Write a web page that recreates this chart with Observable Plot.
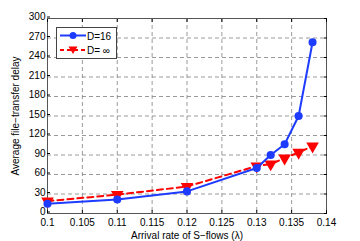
<!DOCTYPE html>
<html><head><meta charset="utf-8">
<script src="https://cdn.jsdelivr.net/npm/d3@7"></script>
<script src="https://cdn.jsdelivr.net/npm/@observablehq/plot@0.6"></script>
<style>
body{margin:0;background:#fff;font-family:"Liberation Sans",Arial,sans-serif;}
#wrap{position:relative;width:360px;height:241px;}
#legend{position:absolute;left:56px;top:27px;}
</style></head><body>
<div id="wrap"><div id="chart"></div><div id="legend"></div></div>
<script>
const lambda = [0.1, 0.11, 0.12, 0.13, 0.132, 0.134, 0.136, 0.138];
const delayD16 = [15, 21.5, 34, 70, 90, 106.5, 150, 263.5];
const delayDinf = [19, 29, 41.5, 73, 76, 85, 94, 103.5];
const xTicks = [0.1, 0.105, 0.11, 0.115, 0.12, 0.125, 0.13, 0.135, 0.14];
const xTickLabels = ["0.1","0.105","0.11","0.115","0.12","0.125","0.13","0.135","0.14"];
const yTicks = [0,30,60,90,120,150,180,210,240,270,300];
const seriesNames = ["D=16", "D= \u221e"];

const blue = "#1e3cff", red = "#ff0000";
const d16 = lambda.map((x,i)=>({x, y: delayD16[i]}));
const dinf = lambda.map((x,i)=>({x, y: delayDinf[i]}));

const plot = Plot.plot({
  width: 360, height: 241,
  marginLeft: 47, marginRight: 34, marginTop: 18, marginBottom: 28,
  style: {fontFamily: '"Liberation Sans", Arial, sans-serif', fontSize: "10px", color: "#000", background: "#fff"},
  x: {domain: [0.1, 0.14]},
  y: {domain: [0, 300]},
  marks: [
    Plot.ruleX(xTicks.slice(1, -1), {stroke: "#808080", strokeDasharray: "4,3", strokeWidth: 0.8}),
    Plot.ruleY(yTicks.slice(1, -1), {stroke: "#808080", strokeDasharray: "4,3", strokeWidth: 0.8}),
    Plot.frame({stroke: "#555", strokeWidth: 1}),
    Plot.axisX({ticks: xTicks, tickSize: -3, tickFormat: (d)=>xTickLabels[xTicks.indexOf(d)], tickPadding: 8, label: "Arrival rate of S\u2212flows (\u03bb)", labelAnchor: "center", labelArrow: "none", labelOffset: 25, fontSize: 10}),
    Plot.axisX({ticks: xTicks, anchor: "top", tickSize: -3, tickFormat: () => "", label: null}),
    Plot.axisY({ticks: yTicks, tickSize: -3, tickPadding: 5, dy: -1.5, label: "Average file\u2212transfer delay", labelAnchor: "center", labelArrow: "none", labelOffset: 36, fontSize: 10}),
    Plot.axisY({ticks: yTicks, anchor: "right", tickSize: -3, tickFormat: () => "", label: null}),
    Plot.line(dinf, {x: "x", y: "y", stroke: red, strokeWidth: 2, strokeDasharray: "6,4"}),
    Plot.dot(dinf, {x: "x", y: "y", symbol: "triangle", rotate: 180, r: 3.7, fill: red, stroke: red}),
    Plot.line(d16, {x: "x", y: "y", stroke: blue, strokeWidth: 2}),
    Plot.dot(d16, {x: "x", y: "y", r: 3.3, fill: blue, stroke: blue})
  ]
});
document.getElementById("chart").appendChild(plot);

const lg = d3.select("#legend").append("svg").attr("width", 62).attr("height", 33);
lg.append("rect").attr("x", 0.5).attr("y", 0.5).attr("width", 60).attr("height", 31).attr("fill", "#fff").attr("stroke", "#444");
const rows = [{name: seriesNames[0], c: blue, dash: null, y: 8.5, sym: "circle"}, {name: seriesNames[1], c: red, dash: "4,3", y: 23, sym: "tri"}];
rows.forEach(r => {
  lg.append("line").attr("x1", 4).attr("x2", 30).attr("y1", r.y).attr("y2", r.y).attr("stroke", r.c).attr("stroke-width", 2).attr("stroke-dasharray", r.dash);
  if (r.sym === "circle") lg.append("circle").attr("cx", 17).attr("cy", r.y).attr("r", 3.5).attr("fill", r.c);
  else lg.append("path").attr("d", `M${17-4.5},${r.y-3.5}L${17+4.5},${r.y-3.5}L17,${r.y+4}Z`).attr("fill", r.c);
  lg.append("text").attr("x", 31).attr("y", r.y + 4).attr("font-size", 10).attr("font-family", '"Liberation Sans", Arial, sans-serif').text(r.name);
});
</script>
</body></html>
